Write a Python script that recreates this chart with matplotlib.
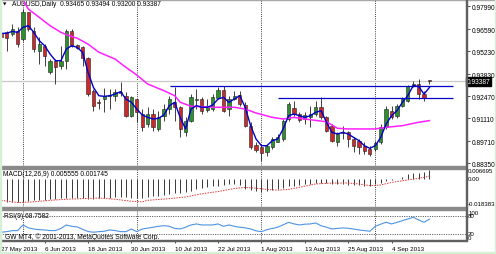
import matplotlib
matplotlib.use('Agg')
import matplotlib.pyplot as plt
import matplotlib.transforms as mtransforms
from matplotlib.patches import Rectangle

# ---- data --------------------------------------------------------------
opens = [0.9633, 0.9639, 0.9629, 0.9649, 0.9598, 0.9762, 0.9649, 0.9526, 0.9557, 0.9394,
         0.9465, 0.9434, 0.9465, 0.9649, 0.9561, 0.9547, 0.9480, 0.9281, 0.9212, 0.9230,
         0.9250, 0.9246, 0.9271, 0.9250, 0.9127, 0.9230, 0.9138, 0.9076, 0.9138, 0.9046,
         0.9127, 0.9168, 0.9213, 0.9179, 0.9025, 0.9097, 0.9225, 0.9230, 0.9164, 0.9168,
         0.9236, 0.9287, 0.9168, 0.9230, 0.9254, 0.9193, 0.9066, 0.8947, 0.8933, 0.8906,
         0.8933, 0.8968, 0.8984, 0.9107, 0.9173, 0.9138, 0.9107, 0.9117, 0.9138, 0.9179,
         0.9117, 0.9066, 0.8964, 0.9020, 0.9025, 0.8984, 0.8974, 0.8943, 0.8923, 0.8923,
         0.8964, 0.9056, 0.9158, 0.9123, 0.9189, 0.9220, 0.9308, 0.9322, 0.9260, 0.93465]
highs = [0.9643, 0.9649, 0.9690, 0.9670, 0.9782, 0.9766, 0.9670, 0.9608, 0.9568, 0.9475,
         0.9475, 0.9557, 0.9660, 0.9660, 0.9568, 0.9557, 0.9486, 0.9291, 0.9230, 0.9295,
         0.9291, 0.9291, 0.9336, 0.9271, 0.9246, 0.9230, 0.9168, 0.9179, 0.9168, 0.9158,
         0.9199, 0.9250, 0.9301, 0.9189, 0.9117, 0.9260, 0.9291, 0.9240, 0.9230, 0.9260,
         0.9301, 0.9308, 0.9250, 0.9281, 0.9281, 0.9209, 0.9087, 0.8964, 0.8943, 0.8947,
         0.8994, 0.9015, 0.9107, 0.9209, 0.9220, 0.9148, 0.9148, 0.9189, 0.9220, 0.9240,
         0.9127, 0.9076, 0.9025, 0.9066, 0.9035, 0.8994, 0.8984, 0.8964, 0.8943, 0.8974,
         0.9076, 0.9189, 0.9189, 0.9199, 0.9240, 0.9316, 0.9342, 0.9353, 0.9281, 0.93494]
lows = [0.9598, 0.9522, 0.9619, 0.9547, 0.9588, 0.9649, 0.9516, 0.9445, 0.9434, 0.9383,
        0.9322, 0.9414, 0.9414, 0.9547, 0.9537, 0.9434, 0.9250, 0.9158, 0.9168, 0.9148,
        0.9168, 0.9220, 0.9250, 0.9117, 0.9117, 0.9087, 0.9035, 0.9056, 0.9035, 0.9035,
        0.9097, 0.9138, 0.9097, 0.8994, 0.9005, 0.9087, 0.9168, 0.9138, 0.9148, 0.9158,
        0.9230, 0.9148, 0.9123, 0.9225, 0.9189, 0.9056, 0.8923, 0.8902, 0.8851, 0.8882,
        0.8923, 0.8964, 0.8974, 0.9097, 0.9127, 0.9091, 0.9076, 0.9056, 0.9127, 0.9107,
        0.9025, 0.8964, 0.8943, 0.8984, 0.8933, 0.8902, 0.8892, 0.8892, 0.8882, 0.8913,
        0.8954, 0.9046, 0.9107, 0.9111, 0.9179, 0.9209, 0.9301, 0.9230, 0.9220, 0.93200]
closes = [0.9608, 0.9602, 0.9660, 0.9568, 0.9762, 0.9660, 0.9537, 0.9568, 0.9496, 0.9465,
          0.9424, 0.9465, 0.9649, 0.9557, 0.9541, 0.9480, 0.9260, 0.9189, 0.9205, 0.9246,
          0.9252, 0.9271, 0.9269, 0.9127, 0.9240, 0.9148, 0.9056, 0.9138, 0.9056, 0.9117,
          0.9168, 0.9230, 0.9179, 0.9046, 0.9097, 0.9240, 0.9232, 0.9158, 0.9185, 0.9244,
          0.9285, 0.9158, 0.9230, 0.9250, 0.9199, 0.9066, 0.8933, 0.8919, 0.8898, 0.8943,
          0.8984, 0.8994, 0.9097, 0.9199, 0.9138, 0.9103, 0.9132, 0.9138, 0.9179, 0.9117,
          0.9035, 0.8974, 0.9015, 0.9025, 0.8984, 0.8943, 0.8933, 0.8913, 0.8892, 0.8960,
          0.9056, 0.9168, 0.9117, 0.9189, 0.9230, 0.9308, 0.9322, 0.9260, 0.9236, 0.93387]

# fast moving average (blue), one value per bar
fast_ma = [0.9633, 0.9633, 0.9645, 0.9639, 0.9670, 0.9680, 0.9639, 0.9588, 0.9557, 0.9506,
           0.9465, 0.9465, 0.9537, 0.9557, 0.9547, 0.9516, 0.9394, 0.9301, 0.9250, 0.9246,
           0.9250, 0.9260, 0.9275, 0.9230, 0.9209, 0.9168, 0.9132, 0.9117, 0.9107, 0.9111,
           0.9132, 0.9189, 0.9209, 0.9117, 0.9046, 0.9168, 0.9189, 0.9179, 0.9179, 0.9193,
           0.9230, 0.9240, 0.9209, 0.9230, 0.9250, 0.9179, 0.9066, 0.8984, 0.8943, 0.8943,
           0.8974, 0.8984, 0.9046, 0.9127, 0.9138, 0.9127, 0.9117, 0.9127, 0.9148, 0.9158,
           0.9087, 0.9025, 0.9015, 0.9025, 0.9015, 0.8994, 0.8974, 0.8943, 0.8927, 0.8943,
           0.8994, 0.9076, 0.9127, 0.9158, 0.9209, 0.9250, 0.9312, 0.9307, 0.9260, 0.9301]

# slow moving average (magenta), read at these bars
slow_idx = [4, 5, 7, 9, 11, 12, 14, 16, 18, 21, 23, 25, 27, 30, 32, 33, 35, 37, 39, 43,
            45, 47, 50, 52, 54, 56, 60, 61, 62, 64, 67, 69, 71, 74, 77, 79]
slow_ma = [0.9836, 0.9782, 0.9731, 0.9680, 0.9639, 0.9625, 0.9603, 0.9567, 0.9517, 0.9475,
           0.9424, 0.9377, 0.9322, 0.9281, 0.9250, 0.9210, 0.9185, 0.9183, 0.9179, 0.9179,
           0.9168, 0.9144, 0.9117, 0.9107, 0.9117, 0.9107, 0.9090, 0.9070, 0.9050, 0.9046,
           0.9046, 0.9046, 0.9056, 0.9066, 0.9087, 0.9097]

# hand-drawn horizontal lines: level, first bar, last bar
hlevels = [0.93115, 0.92359]
hstart = [31.1, 51.0]
hend = [83.3, 83.3]

macd_hist = [-0.01531, -0.01531, -0.01531, -0.01531, -0.01511, -0.01447, -0.01428, -0.01428, -0.01383, -0.01363,
             -0.01318, -0.01286, -0.01273, -0.01273, -0.01273, -0.01286, -0.01318, -0.01318, -0.01286, -0.01273,
             -0.01254, -0.01235, -0.01209, -0.01235, -0.01254, -0.01273, -0.01254, -0.01209, -0.01170, -0.01125,
             -0.01061, -0.00997, -0.00932, -0.00965, -0.00900, -0.00804, -0.00707, -0.00643, -0.00579, -0.00514,
             -0.00463, -0.00418, -0.00386, -0.00354, -0.00418, -0.00675, -0.00772, -0.00836, -0.00868, -0.00836,
             -0.00772, -0.00707, -0.00611, -0.00482, -0.00463, -0.00418, -0.00386, -0.00354, -0.00289, -0.00257,
             -0.00270, -0.00322, -0.00354, -0.00386, -0.00418, -0.00418, -0.00437, -0.00463, -0.00463, -0.00386,
             -0.00289, -0.00161, -0.00096, -0.00019, 0.00129, 0.00289, 0.00354, 0.00386, 0.00418, 0.005555]
sig_idx = [0, 3, 6, 9, 12, 15, 18, 21, 24, 26, 27, 31, 34, 37, 40, 43, 45, 47, 49, 51,
           53, 55, 58, 61, 64, 66, 68, 70, 72, 74, 76, 78, 79]
macd_sig = [-0.0143, -0.0158, -0.0153, -0.0143, -0.0136, -0.0132, -0.0128, -0.0136, -0.0149, -0.0153,
            -0.0143, -0.0132, -0.0121, -0.0100, -0.0085, -0.0065, -0.0058, -0.0063, -0.0071, -0.0076,
            -0.0071, -0.0057, -0.0035, -0.0029, -0.0029, -0.0035, -0.0046, -0.0042, -0.0025, -0.0014,
            -0.0003, 0.0008, 0.001745]

rsi = [25.6, 27.5, 30.8, 30.8, 49.5, 40, 36, 34, 33, 31,
       31, 38, 49.5, 45, 43, 35, 28, 25.6, 27.5, 28.8,
       33, 31, 27.5, 27.5, 36, 27.5, 36, 39, 42, 45,
       47, 45, 38, 36.4, 42, 49.5, 52.8, 49.5, 49.5, 49.5,
       52.8, 45, 49.5, 45, 42, 40, 36.4, 30, 27.5, 34,
       38, 42, 50, 58, 53, 49.5, 52, 52.8, 56, 47,
       42, 36.4, 38, 39.7, 38.6, 36, 33, 31, 28.8, 45,
       52, 58.3, 52.8, 58, 63.6, 69, 74.8, 66, 58.3, 68.7582]

price_ticks = [0.97990, 0.96590, 0.95230, 0.93830, 0.92470, 0.91110, 0.89710, 0.88350]
month_start = [4, 25, 48, 69]
date_idx = [0, 8, 16, 24, 32, 40, 48, 56, 64, 72]
date_labels = ['27 May 2013', '6 Jun 2013', '18 Jun 2013', '30 Jun 2013', '10 Jul 2013',
               '22 Jul 2013', '1 Aug 2013', '13 Aug 2013', '25 Aug 2013', '4 Sep 2013']

# ---- figure ---------------------------------------------------------------
plt.rcParams['font.family'] = ['Liberation Sans', 'DejaVu Sans']
W, H = 496, 255
FS = 4.8
FS_SMALL = 4.4
fig = plt.figure(figsize=(W / 100, H / 100), dpi=100)
fig.patch.set_facecolor('white')


def px_axes(x0, y0, x1, y1):
    a = fig.add_axes([x0 / W, 1 - y1 / H, (x1 - x0) / W, (y1 - y0) / H])
    a.set_xlim(-0.24, 85.74)
    for s in a.spines.values():
        s.set_visible(False)
    a.set_facecolor('white')
    return a


def px_rect(x0, y0, x1, y1, color):
    fig.patches.append(Rectangle((x0 / W, 1 - y1 / H), (x1 - x0) / W, (y1 - y0) / H,
                                 transform=fig.transFigure, color=color, zorder=5))


ax = px_axes(0, 1, 466, 167)
ax_macd = px_axes(0, 169.5, 466, 207.5)
ax_rsi = px_axes(0, 210.6, 466, 241)

idx = list(range(len(closes)))
grid_style = dict(color='black', linestyle=(0, (1, 1.6)), linewidth=0.6, zorder=0)
for a in (ax, ax_macd, ax_rsi):
    for m in month_start:
        a.axvline(m, **grid_style)

# main price window
ax.set_ylim(0.88184, 0.98377)
ax.axhline(closes[-1], color='#c8c8c8', linewidth=0.9, zorder=1)
ax.vlines(idx, lows, highs, color='#202020', linewidth=0.6, zorder=2)
body_col = ['#2f8f2f' if c >= o else '#cc2a2a' for o, c in zip(opens, closes)]
ax.bar(idx, [c - o for o, c in zip(opens, closes)], bottom=opens, width=0.6,
       color=body_col, edgecolor='#202020', linewidth=0.4, zorder=3)
ax.plot(slow_idx, slow_ma, color='#ff20ff', linewidth=1.1, zorder=4)
ax.plot(idx, fast_ma, color='#0000c8', linewidth=1.0, zorder=4)
ax.hlines(hlevels, hstart, hend, color='#0000c8', linewidth=0.9, zorder=4)

ax.yaxis.tick_right()
ax.set_yticks(price_ticks)
ax.set_yticklabels(['%.5f' % p for p in price_ticks])
ax.tick_params(axis='y', direction='out', length=3, width=0.6, pad=1.0,
               labelsize=FS, colors='#303030', labelcolor='black')
ax.set_xticks([])
ax.text(1.002, closes[-1], '%.5f' % closes[-1], color='white', fontsize=FS,
        va='center', ha='left',
        transform=mtransforms.blended_transform_factory(ax.transAxes, ax.transData),
        bbox=dict(boxstyle='square,pad=0.12', facecolor='black', edgecolor='black'),
        clip_on=False, zorder=6)
ax.text(0.007, 0.978, '\u25bc', transform=ax.transAxes, fontsize=3.2, va='center', ha='left',
        family='DejaVu Sans')
ax.text(0.025, 0.976, 'AUDUSD,Daily  %.5f %.5f %.5f %.5f' % (opens[-1], highs[-1], lows[-1], closes[-1]),
        transform=ax.transAxes, fontsize=FS, va='center', ha='left')

# MACD window
ax_macd.set_ylim(-0.018383, 0.006695)
ax_macd.vlines(idx, 0, macd_hist, color='#383838', linewidth=0.7, zorder=2)
ax_macd.plot(sig_idx, macd_sig, color='#e23a3a', linestyle=(0, (1.5, 1.2)), linewidth=0.7, zorder=3)
ax_macd.set_xticks([])
ax_macd.yaxis.tick_right()
ax_macd.set_yticks([0.006695, 0.0, -0.018383])
ax_macd.set_yticklabels(['0.006695', '0.00', '-0.018383'])
for lab, va in zip(ax_macd.get_yticklabels(), ['top', 'center', 'bottom']):
    lab.set_verticalalignment(va)
ax_macd.tick_params(axis='y', length=0, pad=1.5, labelsize=FS_SMALL)
ax_macd.text(0.007, 0.86, 'MACD(12,26,9) %.6f %.6f' % (macd_hist[-1], macd_sig[-1]),
             transform=ax_macd.transAxes, fontsize=FS, va='center', ha='left')

# RSI window
ax_rsi.set_ylim(0, 100)
for lvl in (80, 20):
    ax_rsi.axhline(lvl, color='#303030', linestyle=(0, (1.2, 1.6)), linewidth=0.6, zorder=1)
ax_rsi.plot(idx, rsi, color='#4d94e0', linewidth=0.8, zorder=3)
ax_rsi.yaxis.tick_right()
ax_rsi.set_yticks([100, 80, 20, 0])
ax_rsi.set_yticklabels(['100', '80', '20', '0'])
for lab, va in zip(ax_rsi.get_yticklabels(), ['top', 'center', 'center', 'bottom']):
    lab.set_verticalalignment(va)
ax_rsi.tick_params(axis='y', length=0, pad=1.5, labelsize=FS_SMALL)
ax_rsi.text(0.008, 80, 'RSI(9) %.4f' % rsi[-1], fontsize=FS, va='center', ha='left',
            transform=mtransforms.blended_transform_factory(ax_rsi.transAxes, ax_rsi.transData))
ax_rsi.text(0.01, 0.14, 'GW MT4, \u00a9 2001-2013, MetaQuotes Software Corp.',
            transform=ax_rsi.transAxes, fontsize=FS, va='center', ha='left', zorder=4)
ax_rsi.set_xticks(date_idx)
ax_rsi.set_xticklabels(date_labels)
for lab in ax_rsi.get_xticklabels():
    lab.set_horizontalalignment('left')
ax_rsi.tick_params(axis='x', direction='out', length=2.5, width=0.6, pad=1.5,
                   labelsize=FS - 0.3, colors='#303030', labelcolor='black')

# window frames and separators
px_rect(0, 0, 496, 1, '#a8a8a8')
px_rect(0, 166.8, 466, 169.5, '#8a8a8a')
px_rect(0, 207.5, 466, 210.6, '#8a8a8a')
px_rect(465.5, 0, 466.6, 241.5, '#606060')
px_rect(0, 240.8, 466.6, 241.6, '#606060')
px_rect(0, 0, 1, 255, '#d6f0d6')
px_rect(494.5, 0, 496, 255, '#d6f0d6')
px_rect(0, 253, 496, 255, '#d6f0d6')

fig.savefig('out.png', dpi=100, facecolor=fig.get_facecolor())
